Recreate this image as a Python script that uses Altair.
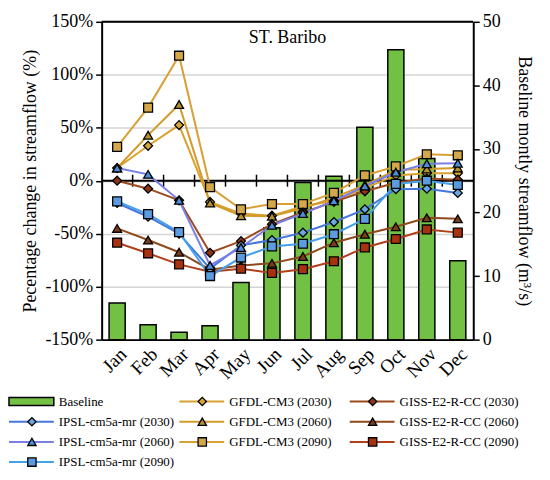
import altair as alt
import pandas as pd

months = ["Jan", "Feb", "Mar", "Apr", "May", "Jun", "Jul", "Aug", "Sep", "Oct", "Nov", "Dec"]
baseline = [5.75, 2.35, 1.15, 2.2, 9.0, 17.6, 24.7, 25.7, 33.4, 45.6, 28.5, 12.4]

gfdl_2030 = [12, 33, 52.5, -20, -31, -33, -24, -19, -7, 5, 7, 7]
gfdl_2060 = [12, 43, 72, -21, -33, -33.5, -26, -16, -4, 10, 11, 12]
gfdl_2090 = [32, 69, 118, -6, -27, -22, -22, -11.5, 5, 13.5, 25, 24]
giss_2030 = [0, -7.5, -18.5, -68, -57, -41, -30, -20, -10, -2, 2, 1]
giss_2060 = [-45, -56, -67.5, -84, -80, -78, -71.5, -58.5, -50.5, -43.5, -35, -36]
giss_2090 = [-58.5, -68.5, -79, -86, -83, -87, -83.5, -76, -63, -55, -46, -49]
ipsl_2030 = [-21, -34, -50, -83, -61, -56, -49, -39, -27, -8, -7.5, -11.5]
ipsl_2060 = [12, 6, -18.5, -80, -63, -42, -31, -19, -5, 8, 16, 16.5]
ipsl_2090 = [-19.5, -31.5, -48.5, -90, -72.5, -62, -59.5, -50.5, -36, -3, 0, -4]

names = [
    "GFDL-CM3 (2030)", "GFDL-CM3 (2060)", "GFDL-CM3 (2090)",
    "GISS-E2-R-CC (2030)", "GISS-E2-R-CC (2060)", "GISS-E2-R-CC (2090)",
    "IPSL-cm5a-mr (2030)", "IPSL-cm5a-mr (2060)", "IPSL-cm5a-mr (2090)",
]
series_values = [gfdl_2030, gfdl_2060, gfdl_2090, giss_2030, giss_2060, giss_2090,
                 ipsl_2030, ipsl_2060, ipsl_2090]
line_colors = ["#d9a22e", "#d39a2a", "#d8a035",
               "#9c4a1e", "#8e4a1c", "#b0401c",
               "#4476dc", "#7a7fe6", "#45a0ea"]
fill_colors = ["#d6a53a", "#b8902a", "#d4a848",
               "#8a361a", "#7a3d16", "#a8320f",
               "#6aa6e0", "#4a8fd8", "#5b9be0"]
shapes = ["diamond", "triangle-up", "square"] * 3

legend_items = ["Baseline", "IPSL-cm5a-mr (2030)", "IPSL-cm5a-mr (2060)", "IPSL-cm5a-mr (2090)",
                "GFDL-CM3 (2030)", "GFDL-CM3 (2060)", "GFDL-CM3 (2090)",
                "GISS-E2-R-CC (2030)", "GISS-E2-R-CC (2060)", "GISS-E2-R-CC (2090)"]
legend_col = [0, 0, 0, 0, 1, 1, 1, 2, 2, 2]
legend_row = [0, 1, 2, 3, 0, 1, 2, 0, 1, 2]

W, H = 373, 319
FONT = "Liberation Serif"
GREEN = "#72c144"

bar_df = pd.DataFrame({"month": months, "flow": baseline})
long_df = pd.DataFrame(
    [{"month": m, "pct": v, "series": n}
     for n, vals in zip(names, series_values) for m, v in zip(months, vals)]
)

xscale = alt.Scale(type="band", domain=months, paddingInner=0, paddingOuter=0)
pscale = alt.Scale(domain=[-150, 150], nice=False, zero=False)
color_scale = alt.Scale(domain=names, range=line_colors)
fill_scale = alt.Scale(domain=names, range=fill_colors)
shape_scale = alt.Scale(domain=names, range=shapes)

left_axis = alt.Axis(values=[-150, -100, -50, 0, 50, 100, 150],
                     labelExpr="datum.value + '%'",
                     title="Pecentage change in streamflow (%)",
                     grid=True, gridColor="#d4d4d4", gridWidth=1.5,
                     tickColor="black", tickSize=6, tickWidth=1.5,
                     domain=True, domainColor="black", domainWidth=2,
                     labelFontSize=18, titleFontSize=18, labelPadding=3,
                     titlePadding=5)

bars = alt.Chart(bar_df).mark_bar(
    width=alt.RelativeBandSize(0.52), color=GREEN, stroke="black", strokeWidth=1.5
).encode(
    x=alt.X("month:N", sort=months, scale=xscale,
            axis=alt.Axis(title=None, labelAngle=-45, ticks=False,
                          domain=True, domainColor="black", domainWidth=2,
                          labelFontSize=19, labelPadding=5, labelColor="black")),
    y=alt.Y("flow:Q", scale=alt.Scale(domain=[0, 50], nice=False),
            axis=alt.Axis(orient="right", values=[0, 10, 20, 30, 40, 50],
                          title="Baseline montly streamflow (m³/s)", grid=False,
                          domain=True, domainColor="black", domainWidth=2,
                          tickColor="black", tickSize=6, tickWidth=1.5,
                          labelFontSize=18, titleFontSize=18, labelPadding=3,
                          titlePadding=14)),
)

lines = alt.Chart(long_df).mark_line(strokeWidth=2).encode(
    x=alt.X("month:N", sort=months, scale=xscale, axis=None),
    y=alt.Y("pct:Q", scale=pscale, axis=left_axis),
    color=alt.Color("series:N", scale=color_scale, legend=None),
)

points = alt.Chart(long_df).mark_point(
    filled=True, stroke="black", strokeWidth=1.3, opacity=1, size=80
).encode(
    x=alt.X("month:N", sort=months, scale=xscale, axis=None),
    y=alt.Y("pct:Q", scale=pscale, axis=left_axis),
    fill=alt.Fill("series:N", scale=fill_scale, legend=None),
    shape=alt.Shape("series:N", scale=shape_scale, legend=None),
)

# the 0% axis line and the top edge of the frame
ref_lines = alt.Chart(pd.DataFrame({"pct": [0, 150]})).mark_rule(
    color="black", strokeWidth=2
).encode(y=alt.Y("pct:Q", scale=pscale, axis=left_axis))

# cross tick marks on the 0% line at month boundaries
zero_ticks = alt.Chart(pd.DataFrame({"month": months[1:], "pct": [0] * 11})).mark_rule(
    color="black", strokeWidth=1.5, yOffset=-6, y2Offset=6
).encode(
    x=alt.X("month:N", sort=months, scale=xscale, axis=None, bandPosition=0),
    y=alt.Y("pct:Q", scale=pscale, axis=left_axis),
    y2=alt.Y2("pct:Q"),
)

title_text = alt.Chart(pd.DataFrame({"t": ["ST. Baribo"]})).mark_text(
    fontSize=18, font=FONT, color="black", baseline="middle", align="center"
).encode(text="t:N", x=alt.value(W / 2), y=alt.value(16))

left_group = alt.layer(ref_lines, zero_ticks, lines, points)

# legend, drawn below the plot area with its own scales
leg_df = pd.DataFrame({"item": legend_items, "col": legend_col, "row": legend_row})
leg_lines_df = leg_df[leg_df["item"] != "Baseline"].rename(columns={"item": "series"})
leg_bar_df = leg_df[leg_df["item"] == "Baseline"]

ROW_TOP = H + 52
LH = 77
lx = alt.X("col:Q", scale=alt.Scale(domain=[0, 3], range=[-93, 420]), axis=None)
ly = alt.Y("row:Q", scale=alt.Scale(domain=[-0.5, 3.3], range=[ROW_TOP, ROW_TOP + LH]),
           axis=None)

leg_rules = alt.Chart(leg_lines_df).mark_rule(strokeWidth=2, x2Offset=45).encode(
    x=lx, x2=alt.X2("col:Q"), y=ly,
    color=alt.Color("series:N", scale=color_scale, legend=None),
)
leg_points = alt.Chart(leg_lines_df).mark_point(
    filled=True, stroke="black", strokeWidth=1.3, opacity=1, size=70, xOffset=23
).encode(
    x=lx, y=ly,
    fill=alt.Fill("series:N", scale=fill_scale, legend=None),
    shape=alt.Shape("series:N", scale=shape_scale, legend=None),
)
leg_bar = alt.Chart(leg_bar_df).mark_rect(
    color=GREEN, stroke="black", strokeWidth=1.5, x2Offset=45, yOffset=-4, y2Offset=4
).encode(x=lx, x2=alt.X2("col:Q"), y=ly, y2=alt.Y2("row:Q"))
leg_text = alt.Chart(leg_df).mark_text(
    align="left", baseline="middle", xOffset=50, fontSize=13, font=FONT, color="black"
).encode(x=lx, y=ly, text="item:N")

legend_group = alt.layer(leg_bar, leg_rules, leg_points, leg_text)

chart = alt.layer(bars, left_group, title_text, legend_group).resolve_scale(
    y="independent", x="independent"
).resolve_axis(x="independent", y="independent").properties(
    width=W, height=H, padding={"left": 0, "top": 4, "right": 10, "bottom": 0}
).configure(font=FONT).configure_view(stroke=None).configure_axis(
    labelFont=FONT, titleFont=FONT, labelColor="black", titleColor="black",
    titleFontWeight="normal"
)

chart.save("out.html", embed_options={"renderer": "svg", "actions": False})
